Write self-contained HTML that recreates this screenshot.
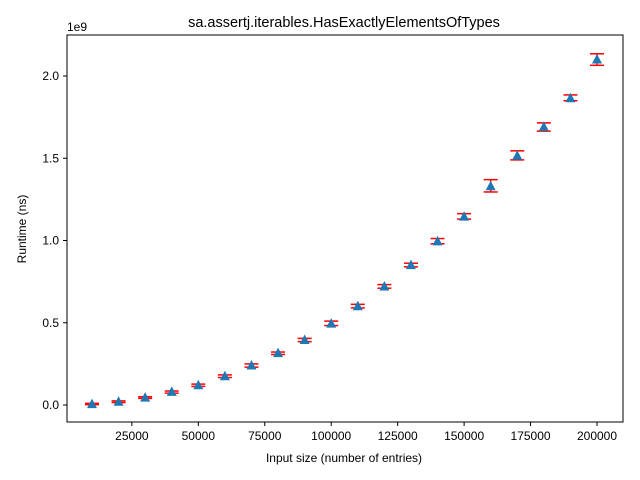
<!DOCTYPE html>
<html><head><meta charset="utf-8"><style>
body{margin:0;background:#fff;}
svg{display:block;font-family:"Liberation Sans","DejaVu Sans",sans-serif;}
</style></head><body>
<svg id="chart" width="640" height="480">
<rect x="0" y="0" width="640" height="480" fill="#fff"/>
<text x="344" y="27" text-anchor="middle" font-size="14.5">sa.assertj.iterables.HasExactlyElementsOfTypes</text>
<text x="67" y="31" font-size="12">1e9</text>
<text x="344" y="462" text-anchor="middle" font-size="12">Input size (number of entries)</text>
<text transform="translate(26,229) rotate(-90)" text-anchor="middle" font-size="12">Runtime (ns)</text>
<g id="ticks"></g>
<g id="marks"></g>
<rect x="67" y="35" width="556" height="387" fill="none" stroke="#000" stroke-width="1"/>
</svg>
<script>
const sizes=[10000,20000,30000,40000,50000,60000,70000,80000,90000,100000,110000,120000,130000,140000,150000,160000,170000,180000,190000,200000];
const means=[0.005,0.02,0.045,0.08,0.12,0.175,0.24,0.315,0.395,0.495,0.6,0.72,0.85,0.995,1.145,1.33,1.515,1.69,1.865,2.1];
const lows=[0.002,0.015,0.04,0.072,0.113,0.167,0.23,0.307,0.385,0.483,0.59,0.71,0.84,0.98,1.13,1.295,1.49,1.665,1.85,2.065];
const highs=[0.01,0.025,0.05,0.085,0.127,0.183,0.25,0.322,0.405,0.51,0.612,0.732,0.862,1.012,1.163,1.37,1.545,1.715,1.885,2.135];
const xTicks=[25000,50000,75000,100000,125000,150000,175000,200000];
const yTicks=[0,0.5,1.0,1.5,2.0];
const yTickLabels=["0.0","0.5","1.0","1.5","2.0"];
const NS="http://www.w3.org/2000/svg";
function X(v){return 92+(v-10000)*(597-92)/190000;}
function Y(v){return 405-v*164.5;}
function mk(t,a,p){const e=document.createElementNS(NS,t);for(const k in a)e.setAttribute(k,a[k]);p.appendChild(e);return e;}
const tg=document.getElementById('ticks'),mg=document.getElementById('marks');
xTicks.forEach(t=>{
 const l=mk('line',{x1:X(t),x2:X(t),y1:422,y2:426,stroke:'#000'},tg);
 
 
 const tx=mk('text',{x:X(t),y:440,'text-anchor':'middle','font-size':12},tg);tx.textContent=t;
 
 
});
yTicks.forEach((t,i)=>{
 const l=mk('line',{x1:63,x2:67,y1:Y(t),y2:Y(t),stroke:'#000'},tg);
 
 
 const tx=mk('text',{x:59,y:Y(t)+4,'text-anchor':'end','font-size':12},tg);tx.textContent=yTickLabels[i];
 
 
});
sizes.forEach((s,i)=>{
 const x=X(s),g=mk('g',{},mg);
 
 
 const yl=Y(lows[i]),yh=Y(highs[i]),ym=Y(means[i]);
 mk('line',{x1:x,x2:x,y1:yl,y2:yh,stroke:'#f00','stroke-width':1.5},g);
 mk('line',{x1:x-7,x2:x+7,y1:yl,y2:yl,stroke:'#f00','stroke-width':1.5},g);
 mk('line',{x1:x-7,x2:x+7,y1:yh,y2:yh,stroke:'#f00','stroke-width':1.5},g);
 const tri=mk('path',{d:`M${x} ${ym-5.5}L${x+5} ${ym+4}L${x-5} ${ym+4}Z`,fill:'#1f77b4'},g);
 
 
});
</script>
</body></html>
